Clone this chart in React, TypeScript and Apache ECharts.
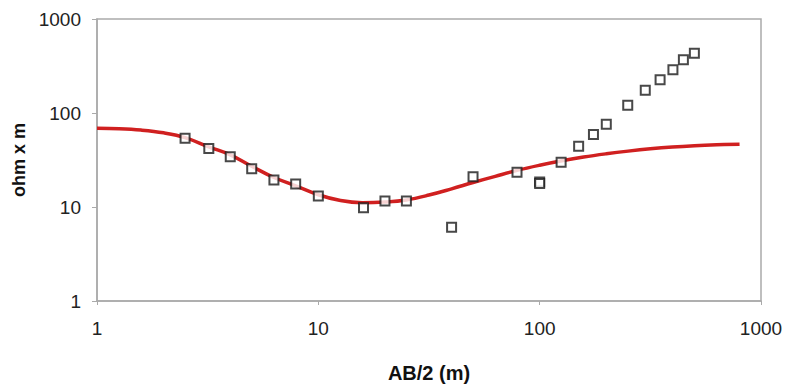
import React, { useEffect, useRef } from "react";
import * as echarts from "echarts";

const obsAB2 = [2.5, 3.2, 4, 5, 6.3, 7.9, 10, 16, 20, 25, 40, 50, 79, 100, 100, 125, 150, 175, 200, 250, 300, 350, 400, 446, 500];
const obsRho = [54, 42, 34.2, 25.6, 19.4, 17.6, 13.1, 9.8, 11.6, 11.6, 6.1, 21, 23.4, 18.5, 17.8, 29.9, 44.4, 59, 75.8, 121, 175, 226, 289, 368, 433];

const modelAB2 = [1, 1.26, 1.58, 2, 2.5, 3.2, 4, 5, 6.3, 7.9, 10, 12.6, 15.8, 20, 25, 31.6, 40, 50, 63, 79, 100, 126, 158, 200, 251, 316, 398, 501, 631, 800];
const modelRho = [68.8, 68, 65.8, 61.5, 54.8, 43.6, 35.9, 27.1, 20.6, 16.8, 13.5, 11.7, 11.1, 11.3, 11.9, 13.4, 15.6, 18.2, 21.2, 24.5, 27.8, 31.0, 34.0, 36.8, 39.3, 41.6, 43.5, 44.9, 45.9, 46.6];

const xTicks = ["1", "10", "100", "1000"];
const yTicks = ["1", "10", "100", "1000"];

export default function App() {
  const ref = useRef<HTMLDivElement>(null);
  useEffect(() => {
    if (!ref.current) return;
    const chart = echarts.init(ref.current, undefined, { renderer: "svg" });
    const font = "Liberation Sans, Arial, sans-serif";
    chart.setOption({
      animation: false,
      backgroundColor: "#ffffff",
      grid: {
        left: 97,
        right: 27,
        top: 19,
        bottom: 85,
        show: true,
        borderColor: "#aaaaaa",
        borderWidth: 1.5,
        backgroundColor: "transparent",
      },
      xAxis: {
        type: "log",
        logBase: 10,
        min: 1,
        max: 1000,
        name: "AB/2 (m)",
        nameLocation: "middle",
        nameGap: 62,
        nameTextStyle: { fontFamily: font, fontSize: 20, fontWeight: "bold", color: "#111" },
        axisLine: { show: true, lineStyle: { color: "#aaaaaa", width: 1.5 } },
        axisTick: { show: true, inside: false, length: 4, lineStyle: { color: "#aaaaaa" } },
        splitLine: { show: false },
        minorTick: { show: false },
        axisLabel: {
          fontFamily: font,
          fontSize: 19,
          color: "#222",
          margin: 18,
          formatter: (v: number) => {
            const s = String(Math.round(v));
            return xTicks.includes(s) ? s : "";
          },
        },
      },
      yAxis: {
        type: "log",
        logBase: 10,
        min: 1,
        max: 1000,
        name: "ohm x m",
        nameLocation: "middle",
        nameGap: 66,
        nameTextStyle: { fontFamily: font, fontSize: 18, fontWeight: "bold", color: "#111" },
        axisLine: { show: true, lineStyle: { color: "#aaaaaa", width: 1.5 } },
        axisTick: { show: true, inside: false, length: 5, lineStyle: { color: "#aaaaaa" } },
        splitLine: { show: false },
        axisLabel: {
          fontFamily: font,
          fontSize: 19,
          color: "#222",
          margin: 16,
          formatter: (v: number) => {
            const s = String(Math.round(v));
            return yTicks.includes(s) ? s : "";
          },
        },
      },
      series: [
        {
          type: "line",
          data: modelAB2.map((x, i) => [x, modelRho[i]]),
          smooth: 0.4,
          showSymbol: false,
          symbol: "none",
          lineStyle: { color: "#d02020", width: 3.5 },
          z: 2,
        },
        {
          type: "scatter",
          data: obsAB2.map((x, i) => [x, obsRho[i]]),
          symbol: "rect",
          symbolSize: 9,
          itemStyle: { color: "#ffffff", borderColor: "#1a1a1a", borderWidth: 2 },
          z: 3,
        },
      ],
    });
    return () => chart.dispose();
  }, []);
  return (
    <div
      ref={ref}
      style={{ position: "fixed", left: 0, top: 0, width: 788, height: 388, background: "#fff" }}
    />
  );
}
